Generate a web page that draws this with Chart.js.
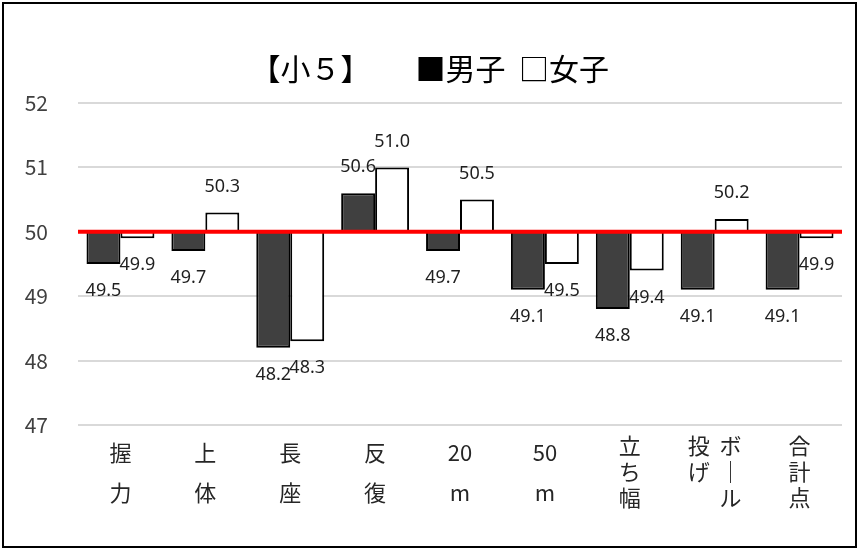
<!DOCTYPE html>
<html>
<head>
<meta charset="utf-8">
<script src="https://cdn.jsdelivr.net/npm/chart.js@4"></script>
<style>
  html, body { margin: 0; padding: 0; background: #fff; }
  #wrap { position: absolute; left: 2px; top: 2px; width: 851px; height: 542px; border: 2px solid #000; }
  canvas { display: block; }
</style>
</head>
<body>
<div id="wrap"><canvas id="chart" width="851" height="542"></canvas></div>
<script>
// 種目（縦書きラベルは1文字ずつ行に分けている）
const categories = [
  ['握', '力'],
  ['上', '体'],
  ['長', '座'],
  ['反', '復'],
  ['20', 'm'],
  ['50', 'm'],
  ['立', 'ち', '幅'],
  ['投  ボ', 'げ  ｜', '\u3000  ル'],
  ['合', '計', '点']
];
const boys  = [49.5, 49.7, 48.2, 50.6, 49.7, 49.1, 48.8, 49.1, 49.1];
const girls = [49.9, 50.3, 48.3, 51.0, 50.5, 49.5, 49.4, 50.2, 49.9];
const yTicks = [47, 48, 49, 50, 51, 52];
const BASE = 50;

const JP = '"Noto Sans CJK JP", "Noto Sans", sans-serif';

// 50のライン（赤）
const baseLine = {
  id: 'baseLine',
  afterDatasetsDraw(chart) {
    const { ctx, chartArea } = chart;
    const y = chart.scales.y.getPixelForValue(BASE);
    ctx.save();
    ctx.strokeStyle = '#ff0000';
    ctx.lineWidth = 4;
    ctx.beginPath();
    ctx.moveTo(chartArea.left, y);
    ctx.lineTo(chartArea.right, y);
    ctx.stroke();
    ctx.restore();
  }
};

// データラベル
const valueLabels = {
  id: 'valueLabels',
  afterDatasetsDraw(chart) {
    const ctx = chart.ctx;
    ctx.save();
    ctx.font = '18px "Noto Sans", sans-serif';
    ctx.fillStyle = '#1f1f1f';
    ctx.textAlign = 'center';
    ctx.textBaseline = 'middle';
    chart.data.datasets.forEach((ds, i) => {
      chart.getDatasetMeta(i).data.forEach((bar, j) => {
        const v = ds.data[j];
        const y = v >= BASE ? bar.y - 26 : bar.y + 27;
        ctx.fillText(v.toFixed(1), bar.x, y);
      });
    });
    ctx.restore();
  }
};

const ctx = document.getElementById('chart').getContext('2d');
new Chart(ctx, {
  type: 'bar',
  data: {
    labels: categories,
    datasets: [{
      label: '男子',
      data: boys,
      base: BASE,
      backgroundColor: '#404040',
      borderColor: '#000',
      borderWidth: 2,
      categoryPercentage: 0.8,
      barPercentage: 1.0
    }, {
      label: '女子',
      data: girls,
      base: BASE,
      backgroundColor: '#fff',
      borderColor: '#000',
      borderWidth: 2,
      categoryPercentage: 0.8,
      barPercentage: 1.0
    }]
  },
  options: {
    responsive: false,
    animation: false,
    layout: { padding: { left: 0, right: 13, top: 0, bottom: 0 } },
    plugins: {
      legend: { display: false },
      tooltip: { enabled: false },
      title: {
        display: true,
        text: '  【小５】　　■男子  □女子',
        color: '#000',
        font: { family: JP, size: 30, weight: 'normal', lineHeight: 1.2 },
        padding: { top: 47, bottom: 16 }
      }
    },
    scales: {
      x: {
        grid: { display: false },
        border: { display: false },
        ticks: {
          color: '#262626',
          padding: 0,
          maxRotation: 0,
          autoSkip: false,
          font: (c) => ({
            family: JP,
            size: 22,
            lineHeight: (categories[c.index] && categories[c.index].length === 2) ? '40px' : '26px'
          })
        },
        afterFit: (scale) => { scale.height = 121; }
      },
      y: {
        min: 47,
        max: 52,
        afterBuildTicks: (scale) => { scale.ticks = yTicks.map(v => ({ value: v })); },
        grid: { color: '#d9d9d9', lineWidth: 2, drawTicks: false },
        border: { display: false },
        ticks: {
          color: '#404040',
          padding: 30,
          font: { family: JP, size: 21 }
        },
        afterFit: (scale) => { scale.width = 74; }
      }
    }
  },
  plugins: [baseLine, valueLabels]
});
</script>
</body>
</html>
